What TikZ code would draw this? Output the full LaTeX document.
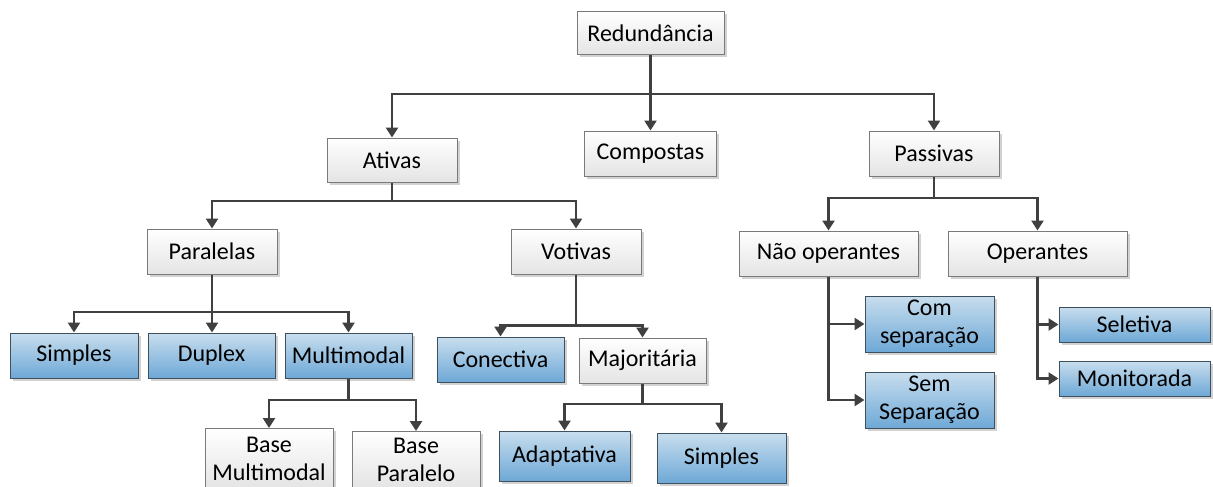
\documentclass[tikz,border=0pt]{standalone}
\usepackage{fontspec}
\setmainfont{Carlito}
\usetikzlibrary{arrows.meta,shadows}
\definecolor{lin}{HTML}{404040}
\definecolor{wbord}{HTML}{7A7A7A}
\definecolor{bbord}{HTML}{3E4F5E}
\definecolor{btop}{HTML}{C8DEEE}
\definecolor{bbot}{HTML}{6EA8D6}
\definecolor{wbot}{HTML}{E4E4E4}
\tikzset{
  basebox/.style={rectangle, inner sep=1pt, align=center, line width=1pt,
    font=\fontsize{24}{28}\selectfont,
    drop shadow={shadow xshift=2.5pt, shadow yshift=-2.5pt, opacity=0.35, fill=gray}},
  wbox/.style={basebox, draw=wbord, top color=white, bottom color=wbot},
  bbox/.style={basebox, draw=bbord, top color=btop, bottom color=bbot},
  lnk/.style={draw=lin, line width=2.5pt},
  arr/.style={lnk, -{Triangle[length=10pt,width=12pt]}}
}
\begin{document}
\begin{tikzpicture}[x=1pt,y=-1pt]
\clip (0,0) rectangle (1213,487);
\fill[white] (0,0) rectangle (1213,487);
% level 0
\node[wbox, minimum width=147pt, minimum height=43pt] (red) at (650.5,33.5) {Redundância};
% level 1
\node[wbox, minimum width=130pt, minimum height=44pt] (ativ) at (392,160) {Ativas};
\node[wbox, minimum width=132pt, minimum height=45pt] (comp) at (650.5,153.5) {Compostas};
\node[wbox, minimum width=130pt, minimum height=45pt] (pass) at (934,153.5) {Passivas};
% level 2
\node[wbox, minimum width=130pt, minimum height=45pt] (para) at (212,251.5) {Paralelas};
\node[wbox, minimum width=130pt, minimum height=45pt] (voti) at (576,251.5) {Votivas};
\node[wbox, minimum width=179pt, minimum height=45pt] (naoop) at (828.5,253.5) {Não operantes};
\node[wbox, minimum width=179pt, minimum height=45pt] (oper) at (1037.5,253.5) {Operantes};
% level 3
\node[bbox, minimum width=128pt, minimum height=45pt] (simp1) at (74,355.5) {Simples};
\node[bbox, minimum width=127pt, minimum height=45pt] (dupl) at (211.5,355.5) {Duplex};
\node[bbox, minimum width=127pt, minimum height=45pt] (mult) at (348.5,355.5) {Multimodal};
\node[bbox, minimum width=127pt, minimum height=45pt] (conec) at (500.5,359.5) {Conectiva};
\node[wbox, minimum width=127pt, minimum height=45pt] (major) at (642.5,360.5) {Majoritária};
\node[bbox, minimum width=129pt, minimum height=56pt] (comsep) at (929.5,324) {Com\\separação};
\node[bbox, minimum width=129pt, minimum height=56pt] (semsep) at (929.5,400) {Sem\\Separação};
\node[bbox, minimum width=151pt, minimum height=35pt] (selet) at (1134.5,324.5) {Seletiva};
\node[bbox, minimum width=151pt, minimum height=35pt] (monit) at (1134.5,378.5) {Monitorada};
% level 4
\node[wbox, minimum width=128pt, minimum height=60pt, anchor=north] (basem) at (269,428) {Base\\Multimodal};
\node[wbox, minimum width=128pt, minimum height=57pt, anchor=north] (basep) at (416,431) {Base\\Paralelo};
\node[bbox, minimum width=131pt, minimum height=50pt] (adapt) at (564.5,456) {Adaptativa};
\node[bbox, minimum width=129pt, minimum height=50pt] (simp2) at (721.5,458) {Simples};
% junctions
\coordinate (j0) at (650.5,94);
\coordinate (j1) at (392,201);
\coordinate (j2) at (934,198);
\coordinate (j3) at (212,312);
\coordinate (j4) at (576,325.5);
\coordinate (j5) at (348.5,400);
\coordinate (j6) at (642.5,404);
% connectors
\draw[lnk] (red.south) -- (j0);
\draw[arr] (j0) -| (ativ.north);
\draw[arr] (j0) -- (comp.north);
\draw[arr] (j0) -| (pass.north);
\draw[lnk] (ativ.south) -- (j1);
\draw[arr] (j1) -| (para.north);
\draw[arr] (j1) -| (voti.north);
\draw[lnk] (pass.south) -- (j2);
\draw[arr] (j2) -| (naoop.north);
\draw[arr] (j2) -| (oper.north);
\draw[lnk] (para.south) -- (j3);
\draw[arr] (j3) -| (simp1.north);
\draw[arr] (j3) -- (dupl.north -| j3);
\draw[arr] (j3) -| (mult.north);
\draw[lnk] (voti.south) -- (j4);
\draw[arr] (j4) -| (conec.north);
\draw[arr] (j4) -| (major.north);
\draw[lnk] (mult.south) -- (j5);
\draw[arr] (j5) -| (basem.north);
\draw[arr] (j5) -| (basep.north);
\draw[lnk] (major.south) -- (j6);
\draw[arr] (j6) -| (adapt.north);
\draw[arr] (j6) -| (simp2.north);
\draw[arr] (naoop.south) |- (comsep.west);
\draw[arr] (naoop.south) |- (semsep.west);
\draw[arr] (oper.south) |- (selet.west);
\draw[arr] (oper.south) |- (monit.west);
\end{tikzpicture}
\end{document}
